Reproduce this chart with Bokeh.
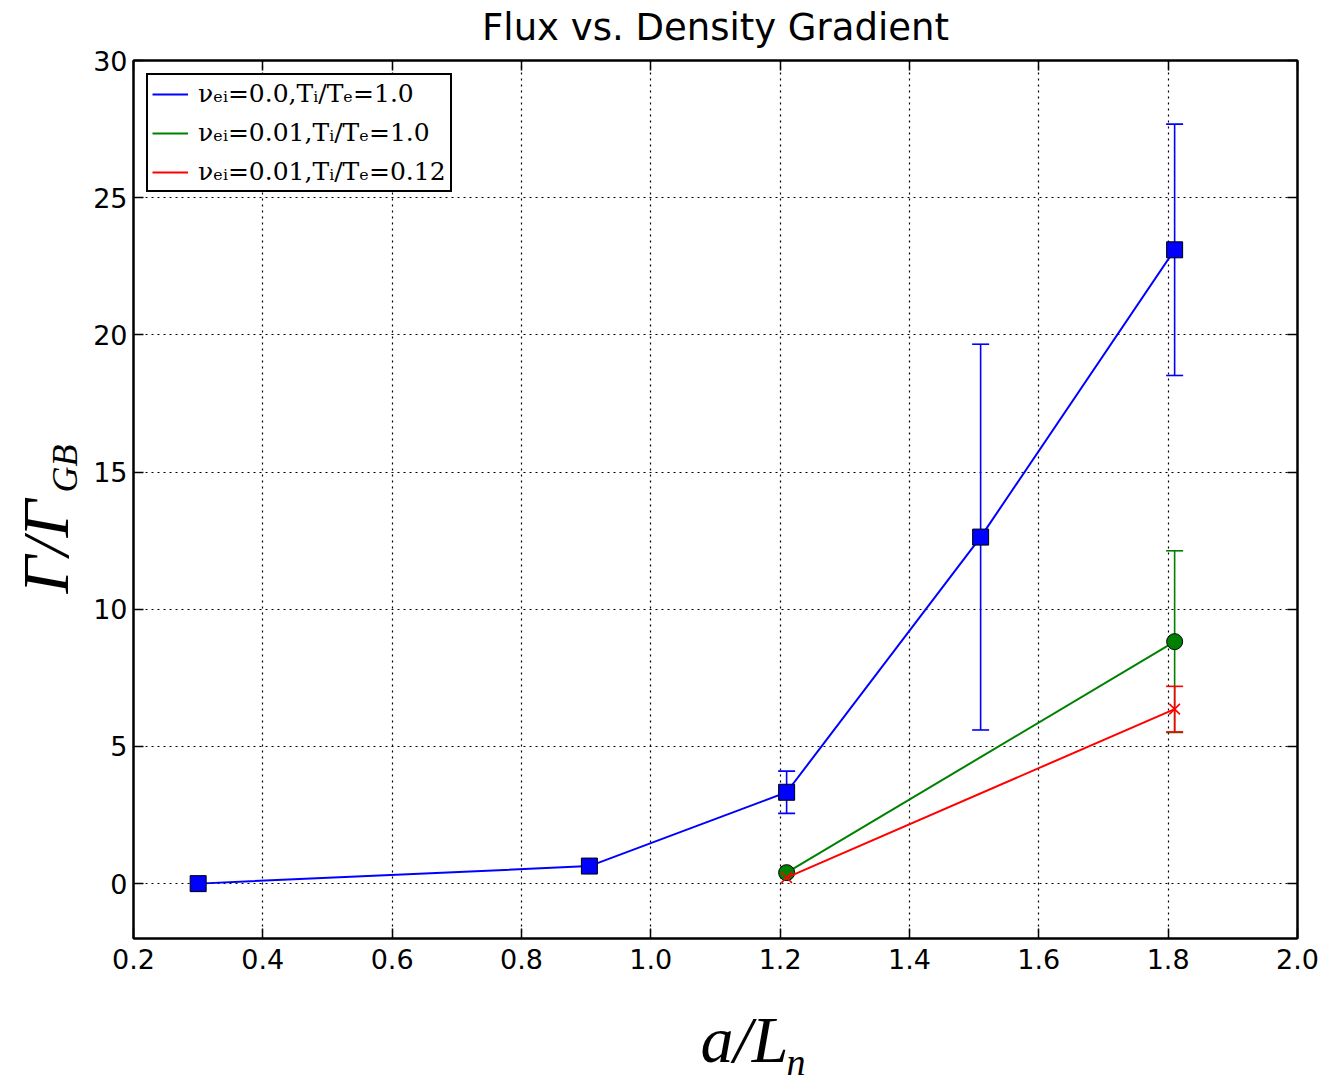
from bokeh.plotting import figure
from bokeh.models import (Range1d, FixedTicker, PrintfTickFormatter, LinearAxis,
                          Legend, LegendItem, Title)
from bokeh.embed import file_html
from bokeh.resources import INLINE

# ---- data ----
x_blue = [0.30, 0.905, 1.21, 1.51, 1.81]
y_blue = [0.0, 0.64, 3.33, 12.63, 23.10]
err_blue = [0.0, 0.0, 0.77, 7.03, 4.58]

x_green = [1.21, 1.81]
y_green = [0.40, 8.82]
err_green = [0.0, 3.31]

x_red = [1.21, 1.81]
y_red = [0.22, 6.36]
err_red = [0.0, 0.83]

labels = ["νₑᵢ=0.0,Tᵢ/Tₑ=1.0", "νₑᵢ=0.01,Tᵢ/Tₑ=1.0", "νₑᵢ=0.01,Tᵢ/Tₑ=0.12"]
x_ticks = [0.2, 0.4, 0.6, 0.8, 1.0, 1.2, 1.4, 1.6, 1.8, 2.0]
y_ticks = [0, 5, 10, 15, 20, 25, 30]

p = figure(width=1334, height=1082, output_backend="svg", toolbar_location=None,
           x_range=Range1d(0.2, 2.0), y_range=Range1d(-2, 30),
           min_border_left=133, min_border_right=37, min_border_top=60,
           min_border_bottom=144, background_fill_color="white",
           border_fill_color="white")
p.title.visible = False

p.outline_line_color = "black"
p.outline_line_width = 2
p.outline_line_alpha = 1

xax = p.below[0]
yax = p.left[0]

for ax in (xax, yax):
    ax.major_tick_in = 10
    ax.major_tick_out = 0
    ax.minor_tick_in = 0
    ax.minor_tick_out = 0
    ax.axis_line_color = "black"
    ax.axis_line_width = 2
    ax.major_tick_line_width = 1.5
    ax.major_label_text_font = "DejaVu Sans"
    ax.major_label_text_font_size = "27px"
    ax.major_label_text_color = "black"

xax.ticker = FixedTicker(ticks=x_ticks)
xax.formatter = PrintfTickFormatter(format="%.1f")
xax.major_label_standoff = 10
yax.ticker = FixedTicker(ticks=y_ticks)
yax.formatter = PrintfTickFormatter(format="%d")
yax.major_label_standoff = 6

top = LinearAxis(ticker=FixedTicker(ticks=x_ticks), major_tick_in=10, major_tick_out=0,
                 minor_tick_in=0, minor_tick_out=0, major_label_text_font_size="0px",
                 major_label_standoff=0, axis_line_width=2, major_tick_line_width=1.5)
right = LinearAxis(ticker=FixedTicker(ticks=y_ticks), major_tick_in=10, major_tick_out=0,
                   minor_tick_in=0, minor_tick_out=0, major_label_text_font_size="0px",
                   major_label_standoff=0, axis_line_width=2, major_tick_line_width=1.5)

p.xgrid[0].ticker = FixedTicker(ticks=x_ticks)
p.ygrid[0].ticker = FixedTicker(ticks=y_ticks)
for g in (p.xgrid[0], p.ygrid[0]):
    g.grid_line_color = "black"
    g.grid_line_dash = "2 4"
    g.grid_line_width = 1.2


def series(xs, ys, errs, color, marker, msize, fill):
    line = p.line(xs, ys, line_color=color, line_width=2)
    ex = [x for x, e in zip(xs, errs) if e > 0]
    lo = [y - e for y, e in zip(ys, errs) if e > 0]
    hi = [y + e for y, e in zip(ys, errs) if e > 0]
    p.segment(x0=ex, y0=lo, x1=ex, y1=hi, line_color=color, line_width=1.6)
    p.scatter(ex + ex, lo + hi, marker="dash", size=17, line_color=color, line_width=1.6)
    if fill:
        p.scatter(xs, ys, marker=marker, size=msize, fill_color=color,
                  line_color="black", line_width=1)
    else:
        p.scatter(xs, ys, marker=marker, size=msize, line_color=color, line_width=1.6)
    return line


lb = series(x_blue, y_blue, err_blue, "#0000ff", "square", 16, True)
lg = series(x_green, y_green, err_green, "#008000", "circle", 16, True)
lr = series(x_red, y_red, err_red, "#ff0000", "x", 15, False)

legend = Legend(items=[LegendItem(label=labels[0], renderers=[lb]),
                       LegendItem(label=labels[1], renderers=[lg]),
                       LegendItem(label=labels[2], renderers=[lr])],
                location="top_left", margin=13, padding=4, spacing=10,
                glyph_width=36, glyph_height=24, label_height=24,
                label_standoff=10,
                label_text_font="DejaVu Serif", label_text_font_size="25px",
                label_text_color="black",
                border_line_color="black", border_line_width=2, border_line_alpha=1,
                background_fill_color="white", background_fill_alpha=1)
p.add_layout(legend)


def title(text, font, size, style, align, valign, offset, standoff):
    return Title(text=text, text_font=font, text_font_size=size, text_font_style=style,
                 text_color="black", align=align, vertical_align=valign,
                 offset=offset, standoff=standoff)


t_main = title("Flux vs. Density Gradient", "DejaVu Sans", "37px", "normal",
               "center", "top", 0, -110)
t_xl = title("a/L", "Liberation Serif", "66px", "italic", "left", "bottom", 567, -274)
t_xs = title("n", "Liberation Serif", "38px", "italic", "left", "bottom", 653, -288)
t_yl = title("Γ/Γ", "Liberation Serif", "66px", "italic", "left", "top", 345, -250)
t_ys = title("GB", "Liberation Serif", "36px", "italic", "left", "top", 446, -178)

p.above = [t_main, top]
p.right = [right]
p.below = [t_xl, t_xs, xax]
p.left = [t_yl, t_ys, yax]

open("out.html", "w").write(file_html(p, INLINE))
